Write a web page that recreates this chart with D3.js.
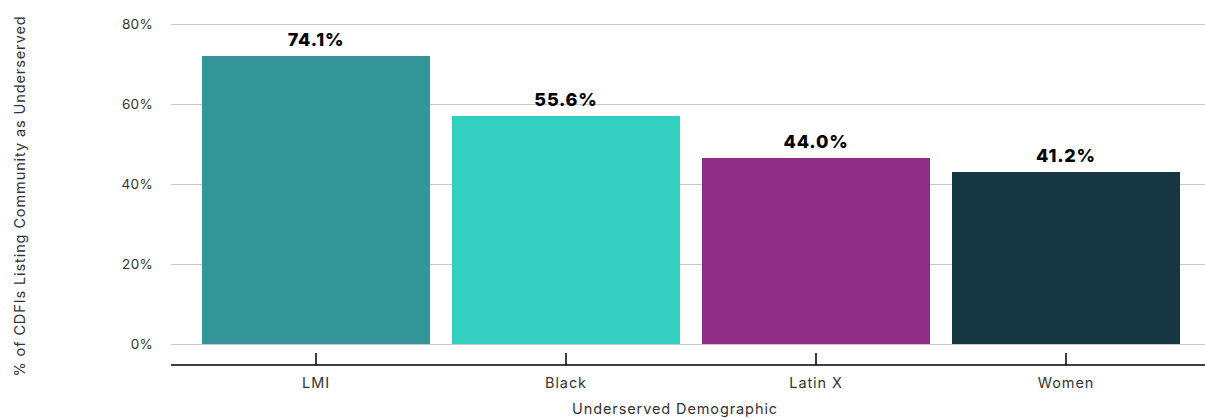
<!DOCTYPE html>
<html>
<head>
<meta charset="utf-8">
<script src="https://cdn.jsdelivr.net/npm/d3@7"></script>
<style>
  body { margin: 0; background: #fff; }
  svg { display: block; font-family: Inter, "Open Sans", sans-serif; }
</style>
</head>
<body>
<svg id="chart" width="1205" height="419"></svg>
<script>
// data
var categories = ['LMI', 'Black', 'Latin X', 'Women'];
var barValues = [72.0, 57.0, 46.5, 43.0];
var labelTexts = ['74.1%', '55.6%', '44.0%', '41.2%'];
var colors = ['#33979a', '#33d0c2', '#8e2c86', '#163642'];
var yTicks = [0, 20, 40, 60, 80];

var width = 1205;
var height = 419;

var svg = d3.select('#chart');

var x = d3.scaleBand()
    .domain(categories)
    .range([191, 1191])
    .paddingInner(0.088)
    .paddingOuter(0.044);

var y = d3.scaleLinear()
    .domain([0, 80])
    .range([344, 24]);

// gridlines
svg.append('g')
    .selectAll('line')
    .data(yTicks)
    .enter()
    .append('line')
    .attr('x1', 171)
    .attr('x2', width)
    .attr('y1', function(d){ return y(d) + 0.5; })
    .attr('y2', function(d){ return y(d) + 0.5; })
    .attr('stroke', '#c8c8c8')
    .attr('stroke-width', 1);

// y tick labels
svg.append('g')
    .selectAll('text')
    .data(yTicks)
    .enter()
    .append('text')
    .attr('x', 153)
    .attr('y', function(d){ return y(d); })
    .attr('dy', '0.35em')
    .attr('text-anchor', 'end')
    .attr('font-size', 13.5)
    .attr('letter-spacing', 0.3)
    .attr('fill', '#333')
    .text(function(d){ return d + '%'; });

// bars
svg.append('g')
    .selectAll('rect')
    .data(categories)
    .enter()
    .append('rect')
    .attr('x', function(d){ return x(d); })
    .attr('y', function(d, i){ return y(barValues[i]); })
    .attr('width', x.bandwidth())
    .attr('height', function(d, i){ return y(0) - y(barValues[i]); })
    .attr('fill', function(d, i){ return colors[i]; });

// value labels
svg.append('g')
    .selectAll('text')
    .data(categories)
    .enter()
    .append('text')
    .attr('x', function(d){ return x(d) + x.bandwidth() / 2; })
    .attr('y', function(d, i){ return y(barValues[i]) - 10; })
    .attr('text-anchor', 'middle')
    .attr('font-size', 18)
    .attr('font-weight', 800)
    .attr('letter-spacing', 0.8)
    .attr('fill', '#000')
    .text(function(d, i){ return labelTexts[i]; });

// x axis
var xAxis = d3.axisTop(x).tickSize(12).tickSizeOuter(0).tickFormat('');
var gx = svg.append('g')
    .attr('transform', 'translate(0,365)')
    .call(xAxis);
gx.select('.domain').remove();
gx.selectAll('.tick line').attr('stroke', '#000').attr('stroke-width', 1.5);
svg.append('line')
    .attr('x1', 171)
    .attr('x2', width)
    .attr('y1', 365)
    .attr('y2', 365)
    .attr('stroke', '#000')
    .attr('stroke-width', 1.5);

svg.append('g')
    .selectAll('text')
    .data(categories)
    .enter()
    .append('text')
    .attr('x', function(d){ return x(d) + x.bandwidth() / 2; })
    .attr('y', 388)
    .attr('text-anchor', 'middle')
    .attr('font-size', 14.5)
    .attr('letter-spacing', 0.9)
    .attr('fill', '#333')
    .text(function(d){ return d; });

// axis titles
svg.append('text')
    .attr('x', 675)
    .attr('y', 414)
    .attr('text-anchor', 'middle')
    .attr('font-size', 14.5)
    .attr('letter-spacing', 0.9)
    .attr('fill', '#333')
    .text('Underserved Demographic');

svg.append('text')
    .attr('transform', 'translate(25,196) rotate(-90)')
    .attr('text-anchor', 'middle')
    .attr('font-size', 14.5)
    .attr('letter-spacing', 0.9)
    .attr('fill', '#333')
    .text('% of CDFIs Listing Community as Underserved');
</script>
</body>
</html>
